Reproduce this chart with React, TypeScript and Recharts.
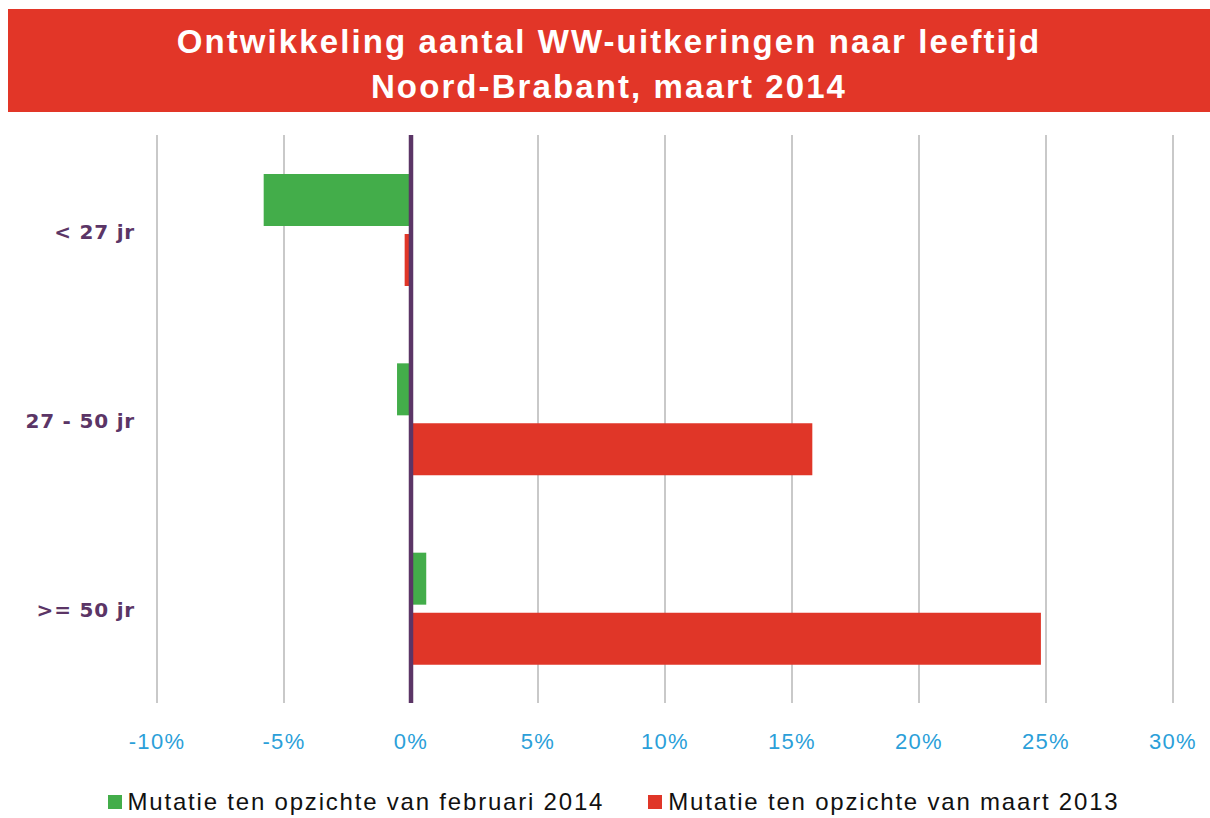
import React from "react";
import { BarChart, Bar, XAxis, YAxis, CartesianGrid, ReferenceLine, Legend } from "recharts";

const categories = ["< 27 jr", "27 - 50 jr", ">= 50 jr"];
const mutatieFeb2014 = [-5.8, -0.55, 0.6];
const mutatieMaart2013 = [-0.25, 15.8, 24.8];
const xTicks = [-10, -5, 0, 5, 10, 15, 20, 25, 30];

const SERIES_FEB = "Mutatie ten opzichte van februari 2014";
const SERIES_MAART = "Mutatie ten opzichte van maart 2013";

const data = categories.map((c, i) => ({
  name: c,
  feb: mutatieFeb2014[i],
  maart: mutatieMaart2013[i],
}));

const FONT = "'Liberation Sans', Arial, sans-serif";

const renderLegend = (props: any) => {
  const { payload } = props;
  return (
    <div style={{ display: "flex", justifyContent: "center", gap: 44, fontFamily: FONT, fontSize: 24, letterSpacing: 1.8, color: "#111", paddingLeft: 54 }}>
      {(payload || []).map((entry: any) => (
        <div key={entry.value} style={{ display: "flex", alignItems: "center" }}>
          <span style={{ display: "inline-block", width: 14, height: 14, background: entry.color, marginRight: 6 }} />
          <span>{entry.value}</span>
        </div>
      ))}
    </div>
  );
};

export default function App() {
  return (
    <div style={{ position: "absolute", left: 0, top: 0, width: 1210, height: 818, background: "#fff", fontFamily: FONT }}>
      <div
        style={{
          position: "absolute",
          left: 8,
          top: 9,
          width: 1202,
          height: 103,
          background: "#e23628",
          color: "#fff",
          fontWeight: "bold",
          fontSize: 33,
          lineHeight: "45px",
          textAlign: "center",
          display: "flex",
          flexDirection: "column",
          justifyContent: "center",
          letterSpacing: 2.1,
          paddingTop: 6,
          boxSizing: "border-box",
        }}
      >
        <div>Ontwikkeling aantal WW-uitkeringen naar leeftijd</div>
        <div>Noord-Brabant, maart 2014</div>
      </div>
      <div style={{ position: "absolute", left: 0, top: 0 }}>
        <BarChart
          width={1210}
          height={818}
          data={data}
          layout="vertical"
          margin={{ top: 135, right: 37, left: 0, bottom: 0 }}
          barGap={8}
          barSize={52}
        >
          <CartesianGrid horizontal={false} vertical={true} stroke="#c9c9c9" strokeWidth={2} />
          <XAxis
            type="number"
            domain={[-10, 30]}
            ticks={xTicks}
            tickFormatter={(v: number) => `${v}%`}
            axisLine={false}
            tickLine={false}
            tickSize={0}
            tickMargin={30}
            height={75}
            tick={{ fill: "#2b9fd9", fontSize: 22, fontFamily: FONT, letterSpacing: 1.3 }}
            interval={0}
          />
          <YAxis
            type="category"
            dataKey="name"
            width={157}
            axisLine={false}
            tickLine={false}
            tickSize={0}
            tickMargin={22}
            tick={{ fill: "#5b3566", fontSize: 20, fontWeight: "bold", fontFamily: "'DejaVu Sans', sans-serif", letterSpacing: 0.8, dy: 2 }}
          />
          <Legend
            verticalAlign="bottom"
            height={40}
            content={renderLegend}
            wrapperStyle={{ top: 788 }}
          />
          <Bar dataKey="feb" name={SERIES_FEB} fill="#43ad4a" isAnimationActive={false} />
          <Bar dataKey="maart" name={SERIES_MAART} fill="#e03628" isAnimationActive={false} />
          <ReferenceLine x={0} stroke="#5b3566" strokeWidth={4.5} />
        </BarChart>
      </div>
    </div>
  );
}
